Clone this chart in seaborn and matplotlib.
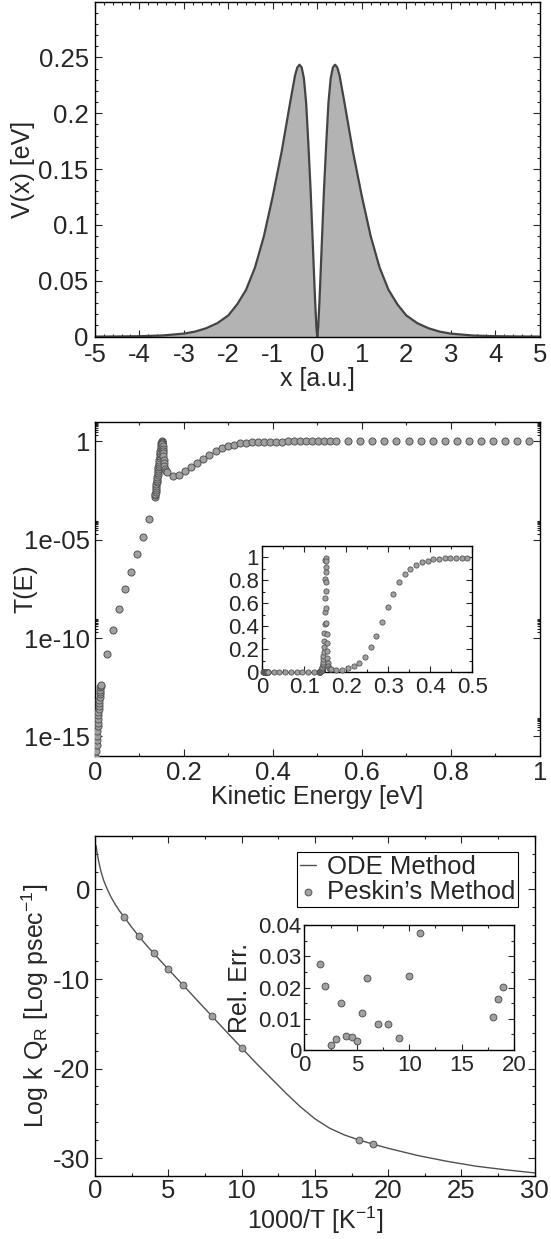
import matplotlib
matplotlib.use("Agg")
import matplotlib.pyplot as plt
from matplotlib.ticker import MultipleLocator, FixedLocator, FormatStrFormatter, NullFormatter
import numpy as np
import seaborn as sns

# ---- panel 1: double barrier potential ----
x_pot = [-5.0, -4.5, -4.0, -3.5, -3.0, -2.75, -2.5, -2.25, -2.0, -1.8, -1.6, -1.4, -1.2,
         -1.0, -0.9, -0.8, -0.7, -0.6, -0.5, -0.45, -0.4, -0.35, -0.3, -0.25, -0.2, -0.15,
         -0.11, -0.08, -0.05, -0.02, 0.0,
         0.02, 0.05, 0.08, 0.11, 0.15, 0.2, 0.25, 0.3, 0.35, 0.4, 0.45, 0.5, 0.6, 0.7,
         0.8, 0.9, 1.0, 1.2, 1.4, 1.6, 1.8, 2.0, 2.25, 2.5, 2.75, 3.0, 3.5, 4.0, 4.5, 5.0]
v_pot = [0.00005, 0.00015, 0.0004, 0.0010, 0.0027, 0.0045, 0.0075, 0.012, 0.019, 0.029,
         0.042, 0.062, 0.090, 0.126, 0.146, 0.166, 0.189, 0.212, 0.234, 0.241, 0.2435,
         0.241, 0.231, 0.209, 0.172, 0.131, 0.092, 0.062, 0.033, 0.008, 0.0,
         0.008, 0.033, 0.062, 0.092, 0.131, 0.172, 0.209, 0.231, 0.241, 0.2435, 0.241,
         0.234, 0.212, 0.189, 0.166, 0.146, 0.126, 0.090, 0.062, 0.042, 0.029, 0.019,
         0.012, 0.0075, 0.0045, 0.0027, 0.0010, 0.0004, 0.00015, 0.00005]

# ---- panel 2: transmission T(E) ----
e_low = [0.0025, 0.0030, 0.0035, 0.0040, 0.0045, 0.0050, 0.0055, 0.0060, 0.0065, 0.0070,
         0.0075, 0.0080, 0.0085, 0.0090, 0.0095, 0.0100, 0.0105, 0.0110, 0.0115, 0.0120,
         0.0125, 0.0130]
t_low = [3.2e-17, 7.9e-17, 1.8e-16, 3.5e-16, 6.3e-16, 1.1e-15, 1.9e-15, 3.2e-15, 5.0e-15,
         7.9e-15, 1.2e-14, 1.8e-14, 2.6e-14, 3.7e-14, 5.2e-14, 7.2e-14, 1.0e-13, 1.35e-13,
         1.8e-13, 2.4e-13, 3.2e-13, 3.6e-13]

e_res = [0.1350, 0.1355, 0.1360, 0.1365, 0.1370, 0.1375, 0.1380, 0.1385, 0.1390, 0.1395,
         0.1400, 0.1405, 0.1410, 0.1415, 0.1420, 0.1425, 0.1430, 0.1435, 0.1440, 0.1445,
         0.1450, 0.1455, 0.1460, 0.1465, 0.1470, 0.1475, 0.1480, 0.1485, 0.1490, 0.1495,
         0.1500, 0.1503, 0.1506, 0.1509, 0.1512, 0.1515, 0.1518, 0.1521, 0.1524, 0.1528,
         0.1532, 0.1537, 0.1543, 0.1551, 0.1562, 0.1578, 0.1600]
t_res = [1.45e-3, 1.78e-3, 2.24e-3, 2.75e-3, 3.47e-3, 4.27e-3, 5.37e-3, 6.61e-3, 8.32e-3,
         1.02e-2, 1.29e-2, 1.58e-2, 2.0e-2, 2.45e-2, 3.09e-2, 3.8e-2, 4.79e-2, 5.89e-2,
         7.41e-2, 9.12e-2, 0.112, 0.141, 0.174, 0.219, 0.269, 0.339, 0.417, 0.525, 0.646,
         0.813, 0.977, 0.995, 0.97, 0.92, 0.87, 0.79, 0.71, 0.56, 0.43, 0.33, 0.25, 0.18,
         0.12, 0.08, 0.055, 0.038, 0.030]

e_grid = [0.01356, 0.02712, 0.04068, 0.05424, 0.06780, 0.08136, 0.09492, 0.10848, 0.12204,
          0.16272, 0.17628, 0.18984, 0.20340, 0.21696, 0.23052, 0.24408, 0.25764, 0.27120,
          0.28476, 0.29832, 0.31188, 0.32544, 0.33900, 0.35256, 0.36612, 0.37968, 0.39324,
          0.40680, 0.42036, 0.43392, 0.44748, 0.46104, 0.47460, 0.48816, 0.50172, 0.51528,
          0.52884, 0.54240, 0.56952, 0.59664, 0.62376, 0.65088, 0.67800, 0.70512, 0.73224,
          0.75936, 0.78648, 0.81360, 0.84072, 0.86784, 0.89496, 0.92208, 0.94920, 0.97632]
t_grid = [4.2e-13, 1.5e-11, 2.6e-10, 3.1e-9, 2.95e-8, 2.4e-7, 1.86e-6, 1.38e-5, 1.2e-4,
          0.027, 0.017, 0.020, 0.032, 0.050, 0.080, 0.135, 0.215, 0.315, 0.44, 0.565,
          0.685, 0.785, 0.852, 0.900, 0.935, 0.958, 0.973, 0.984, 0.990, 0.994, 0.996,
          0.997, 0.998, 0.999, 0.999, 0.9995, 0.9996, 0.9997, 0.9998, 0.9998, 0.9999,
          0.9999, 0.9999, 1.0, 1.0, 1.0, 1.0, 1.0, 1.0, 1.0, 1.0, 1.0, 1.0, 1.0]

# ---- panel 3: rate constants ----
x_ode = [0.08, 0.15, 0.25, 0.4, 0.6, 0.85, 1.1, 1.4, 1.7, 2.0, 2.5, 3, 3.5, 4, 5, 6, 7, 8,
         9, 10, 11, 12, 13, 14, 15, 16, 17, 18, 19, 20, 22, 24, 26, 28, 30]
y_ode = [4.9, 4.1, 3.2, 2.1, 1.0, 0.0, -0.85, -1.7, -2.45, -3.08, -4.2, -5.23, -6.2, -7.12,
         -8.9, -10.65, -12.42, -14.18, -15.93, -17.67, -19.4, -21.05, -22.7, -24.25, -25.6,
         -26.65, -27.4, -27.97, -28.45, -28.9, -29.7, -30.35, -30.9, -31.3, -31.65]
x_pesk = [2, 3, 4, 5, 6, 8, 10, 18, 19]
y_pesk = [-3.08, -5.23, -7.12, -8.9, -10.65, -14.18, -17.67, -27.97, -28.45]

x_err = [1.5, 2, 2.5, 3, 3.5, 4, 4.5, 5, 5.5, 6, 7, 8, 9, 10, 11, 18, 18.5, 19]
y_err = [0.0274, 0.0204, 0.0017, 0.0035, 0.0149, 0.0046, 0.0041, 0.0030, 0.0119, 0.0229,
         0.0083, 0.0084, 0.0038, 0.0238, 0.0374, 0.0107, 0.0163, 0.0201]

sns.set_style("ticks")
plt.rcParams['font.family'] = ['Liberation Sans', 'DejaVu Sans']
plt.rcParams['mathtext.fontset'] = 'custom'
plt.rcParams['mathtext.rm'] = 'Liberation Sans'
plt.rcParams['mathtext.it'] = 'Liberation Sans:italic'
plt.rcParams['axes.unicode_minus'] = False

FILL = '#b3b3b3'
DARK = '#444444'
MFACE = '#a0a0a0'
MEDGE = '#555555'
TS = 18.5  # tick label size
LS = 18    # axis label size
ITS = 16   # inset tick size


def style(ax, size, xpad, ypad, major=5, minor=2.5):
    for s in ax.spines.values():
        s.set_linewidth(1.0)
        s.set_color('black')
    ax.tick_params(which='both', direction='in', top=True, right=True, width=0.8,
                   labelsize=size)
    ax.tick_params(which='major', length=major)
    ax.tick_params(which='minor', length=minor)
    ax.tick_params(axis='x', which='major', pad=xpad)
    ax.tick_params(axis='y', which='major', pad=ypad)


fig = plt.figure(figsize=(5.51, 12.39), dpi=100)

# ---------------- top panel ----------------
ax1 = fig.add_axes([0.1722, 0.7283, 0.8073, 0.2704])
ax1.fill_between(x_pot, v_pot, 0, color=FILL, linewidth=0)
sns.lineplot(x=x_pot, y=v_pot, ax=ax1, color=DARK, linewidth=1.6)
ax1.set_xlim(-5, 5)
ax1.set_ylim(0, 0.3)
ax1.xaxis.set_major_locator(MultipleLocator(1))
ax1.xaxis.set_minor_locator(MultipleLocator(0.2))
ax1.yaxis.set_major_locator(FixedLocator([0, 0.05, 0.1, 0.15, 0.2, 0.25]))
ax1.yaxis.set_minor_locator(MultipleLocator(0.01))
ax1.xaxis.set_major_formatter(FormatStrFormatter('%g'))
ax1.yaxis.set_major_formatter(FormatStrFormatter('%g'))
style(ax1, TS, 4.5, 4.5)
ax1.set_xlabel('x [a.u.]', fontsize=LS)
ax1.set_ylabel('V(x) [eV]', fontsize=LS)
ax1.xaxis.set_label_coords(0.5, -0.092)
ax1.yaxis.set_label_coords(-0.135, 0.5)

# ---------------- middle panel ----------------
e_all = e_low + e_res + e_grid
t_all = t_low + t_res + t_grid

ax2 = fig.add_axes([0.1722, 0.3898, 0.8073, 0.2698])
sns.scatterplot(x=e_all, y=t_all, ax=ax2, s=26, color=MFACE, edgecolor=MEDGE,
                linewidth=0.7, zorder=3)
ax2.set_yscale('log')
ax2.set_xlim(0, 1)
ax2.set_ylim(1e-16, 10)
ax2.xaxis.set_major_locator(MultipleLocator(0.2))
ax2.xaxis.set_minor_locator(MultipleLocator(0.1))
ax2.xaxis.set_major_formatter(FormatStrFormatter('%g'))
ax2.yaxis.set_major_locator(FixedLocator([1e-15, 1e-10, 1e-5, 1]))
ax2.yaxis.set_minor_locator(FixedLocator([k * 10.0 ** p for p in (-15, -10, -5, 0)
                                          for k in range(2, 10)]))
ax2.yaxis.set_major_formatter(matplotlib.ticker.FixedFormatter(['1e-15', '1e-10', '1e-05', '1']))
ax2.yaxis.set_minor_formatter(NullFormatter())
style(ax2, TS, 3.5, 3.5)
ax2.set_xlabel('Kinetic Energy [eV]', fontsize=LS)
ax2.set_ylabel('T(E)', fontsize=LS)
ax2.xaxis.set_label_coords(0.5, -0.088)
ax2.yaxis.set_label_coords(-0.13, 0.5)

# inset: linear scale, same data
ins = [(e, t) for e, t in zip(e_all, t_all) if e <= 0.5]
ax2i = fig.add_axes([0.4762, 0.4576, 0.3811, 0.1017])
sns.scatterplot(x=[p[0] for p in ins], y=[p[1] for p in ins], ax=ax2i, s=14,
                color=MFACE, edgecolor=MEDGE, linewidth=0.6, zorder=3, clip_on=False)
ax2i.set_xlim(0, 0.5)
ax2i.set_ylim(0, 1.1)
ax2i.xaxis.set_major_locator(MultipleLocator(0.1))
ax2i.xaxis.set_minor_locator(MultipleLocator(0.05))
ax2i.yaxis.set_major_locator(FixedLocator([0, 0.2, 0.4, 0.6, 0.8, 1.0]))
ax2i.yaxis.set_minor_locator(MultipleLocator(0.1))
ax2i.xaxis.set_major_formatter(FormatStrFormatter('%g'))
ax2i.yaxis.set_major_formatter(FormatStrFormatter('%g'))
style(ax2i, ITS, 3.5, 2.5, major=4, minor=2)

# ---------------- bottom panel ----------------
ax3 = fig.add_axes([0.1722, 0.0508, 0.7984, 0.2747])
sns.lineplot(x=x_ode, y=y_ode, ax=ax3, color='#505050', linewidth=1.0,
             label='ODE Method')
sns.scatterplot(x=x_pesk, y=y_pesk, ax=ax3, s=24, color=MFACE, edgecolor=MEDGE,
                linewidth=0.7, zorder=3, label='Peskin\u2019s Method')
ax3.set_xlim(0, 30)
ax3.set_ylim(-32, 6)
ax3.xaxis.set_major_locator(MultipleLocator(5))
ax3.xaxis.set_minor_locator(MultipleLocator(2.5))
ax3.yaxis.set_major_locator(FixedLocator([-30, -20, -10, 0]))
ax3.yaxis.set_minor_locator(MultipleLocator(2))
ax3.xaxis.set_major_formatter(FormatStrFormatter('%g'))
ax3.yaxis.set_major_formatter(FormatStrFormatter('%g'))
style(ax3, TS, 2.0, 3.5)
ax3.set_xlabel(r'1000/T [K$^{\mathrm{-1}}$]', fontsize=LS)
ax3.set_ylabel(r'Log k Q$_{\mathrm{R}}$ [Log psec$^{\mathrm{-1}}$]', fontsize=LS)
ax3.xaxis.set_label_coords(0.5, -0.085)
ax3.yaxis.set_label_coords(-0.10, 0.5)
leg = ax3.legend(loc='upper right', bbox_to_anchor=(0.962, 0.952), borderaxespad=0,
                 fontsize=18.5, frameon=True, fancybox=False, framealpha=1,
                 edgecolor='black', handlelength=0.65, handletextpad=0.4,
                 borderpad=0.12, labelspacing=0.02)
leg.get_frame().set_linewidth(0.8)

ax3i = fig.add_axes([0.5526, 0.1525, 0.3802, 0.1009])
sns.scatterplot(x=x_err, y=y_err, ax=ax3i, s=24, color=MFACE, edgecolor=MEDGE,
                linewidth=0.7, zorder=3, clip_on=False)
ax3i.set_xlim(0, 20)
ax3i.set_ylim(0, 0.04)
ax3i.xaxis.set_major_locator(MultipleLocator(5))
ax3i.xaxis.set_minor_locator(MultipleLocator(2.5))
ax3i.yaxis.set_major_locator(MultipleLocator(0.01))
ax3i.yaxis.set_minor_locator(MultipleLocator(0.005))
ax3i.xaxis.set_major_formatter(FormatStrFormatter('%g'))
ax3i.yaxis.set_major_formatter(FormatStrFormatter('%g'))
style(ax3i, ITS, 3.5, 2.5, major=4, minor=2)
ax3i.set_ylabel('Rel. Err.', fontsize=18)
ax3i.yaxis.set_label_coords(-0.25, 0.5)

fig.savefig('out.png', dpi=100)
